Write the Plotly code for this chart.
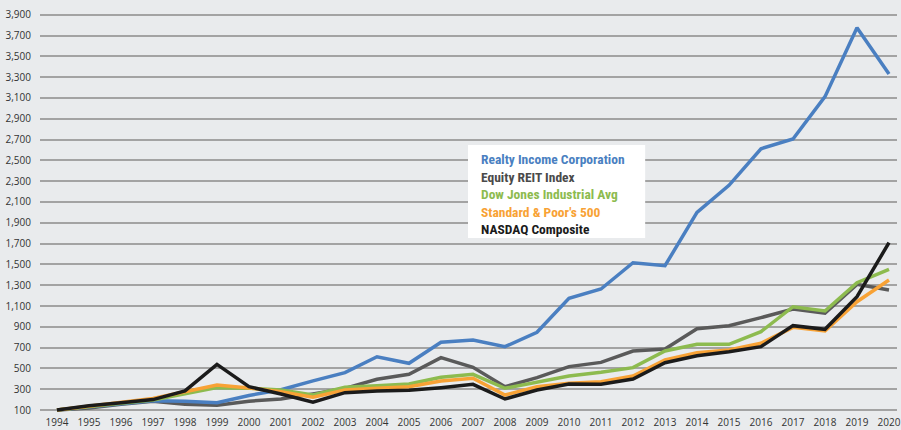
import plotly.graph_objects as go

years = list(range(1994, 2021))

realty_income = [100, 130, 160, 190, 183, 170, 240, 295, 380, 459, 612, 549, 751, 773, 709, 847,
                 1174, 1263, 1516, 1487, 2000, 2260, 2612, 2706, 3113, 3776, 3331]
equity_reit = [100, 120, 155, 185, 155, 145, 185, 205, 255, 308, 395, 443, 603, 511, 324, 411,
               517, 558, 667, 686, 882, 911, 988, 1071, 1030, 1308, 1254]
dow_jones = [100, 135, 165, 195, 254, 315, 310, 292, 244, 318, 334, 350, 414, 443, 309, 372,
             427, 462, 507, 667, 731, 731, 853, 1093, 1052, 1324, 1453]
sp500 = [100, 135, 170, 210, 276, 340, 312, 276, 222, 292, 308, 324, 379, 405, 244, 324,
         356, 372, 427, 581, 651, 677, 741, 895, 860, 1141, 1350]
nasdaq = [100, 140, 170, 200, 283, 539, 324, 254, 174, 267, 283, 289, 315, 347, 206, 292,
          350, 347, 398, 555, 622, 661, 709, 911, 876, 1189, 1709]

y_ticks = list(range(100, 4000, 200))

series = [
    ("Equity REIT Index", equity_reit, "#5a5a5a"),
    ("Realty Income Corporation", realty_income, "#4a7fc1"),
    ("Dow Jones Industrial Avg", dow_jones, "#8dbb4f"),
    ("Standard & Poor's 500", sp500, "#f8a235"),
    ("NASDAQ Composite", nasdaq, "#1b1b1b"),
]

fig = go.Figure()
for name, vals, color in series:
    fig.add_trace(go.Scatter(x=years, y=vals, mode="lines", name=name,
                             line=dict(color=color, width=3.5), showlegend=False))

PW, PH, L = 861, 415, 40

legend_lines = [
    ("Realty Income Corporation", "#4a7fc1"),
    ("Equity REIT Index", "#4a4a4a"),
    ("Dow Jones Industrial Avg", "#8dbb4f"),
    ("Standard & Poor's 500", "#f8a235"),
    ("NASDAQ Composite", "#1b1b1b"),
]
fig.add_shape(type="rect", xref="paper", yref="paper",
              x0=(470 - L) / PW, x1=(648 - L) / PW, y0=1 - 238 / PH, y1=1 - 145 / PH,
              fillcolor="white", line=dict(width=0), layer="above")
legend_text = "<br>".join(
    f"<span style='color:{c}'><b>{t}</b></span>" for t, c in legend_lines)
fig.add_annotation(
    text=legend_text, xref="paper", yref="paper", x=(481 - L) / PW, y=1 - 149 / PH,
    xanchor="left", yanchor="top", showarrow=False, align="left",
    font=dict(family="Liberation Sans Narrow, Roboto Condensed, Roboto, sans-serif", size=13.5),
)

fig.update_layout(
    width=901, height=430,
    margin=dict(l=L, r=0, t=0, b=15),
    paper_bgcolor="#e9ebed", plot_bgcolor="#e9ebed",
    font=dict(family="Open Sans, sans-serif", size=10, color="#333333"),
    xaxis=dict(range=[1993.47, 2020.25], tickvals=years, showgrid=False,
               zeroline=False, showline=False, ticks="", tickfont=dict(size=10),
               ticklabeloverflow="allow"),
    yaxis=dict(range=[100 - 5 * 9.615, 100 + 410 * 9.615], tickvals=y_ticks,
               tickformat=",", showgrid=True, gridcolor="#a3a3a3", gridwidth=1.5,
               zeroline=False, showline=False, ticks="", ticklabelstandoff=8,
               tickfont=dict(size=10)),
)

fig.write_html("out.html", config={"displayModeBar": False},
               post_script="document.body.style.margin='0';document.body.style.padding='0';")
